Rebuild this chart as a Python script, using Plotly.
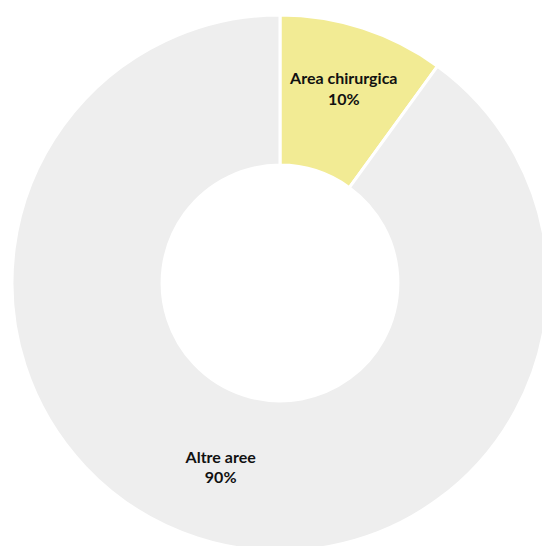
import plotly.graph_objects as go

# Data
labels = ["Area chirurgica", "Altre aree"]
values = [10, 90]
colors = ["#f2eb94", "#eeeeee"]

fig = go.Figure(go.Pie(
    labels=labels,
    values=values,
    hole=0.44,
    sort=False,
    direction="clockwise",
    rotation=0,
    marker=dict(colors=colors, line=dict(color="white", width=3)),
    texttemplate="<b>%{label}</b><br><b>%{percent:.0%}</b>",
    textposition="inside",
    insidetextorientation="horizontal",
    textfont=dict(family="Lato", size=16, color="#111111"),
    showlegend=False,
    hoverinfo="label+percent",
))

# the donut runs past the right and bottom edges of the window
fig.update_layout(
    width=548,
    height=551,
    margin=dict(l=12, r=0, t=15, b=0),
    paper_bgcolor="white",
    plot_bgcolor="white",
)

fig.write_html(
    "out.html",
    config={"displayModeBar": False},
    post_script="document.body.style.margin = '0'; document.body.style.overflow = 'hidden';",
)
